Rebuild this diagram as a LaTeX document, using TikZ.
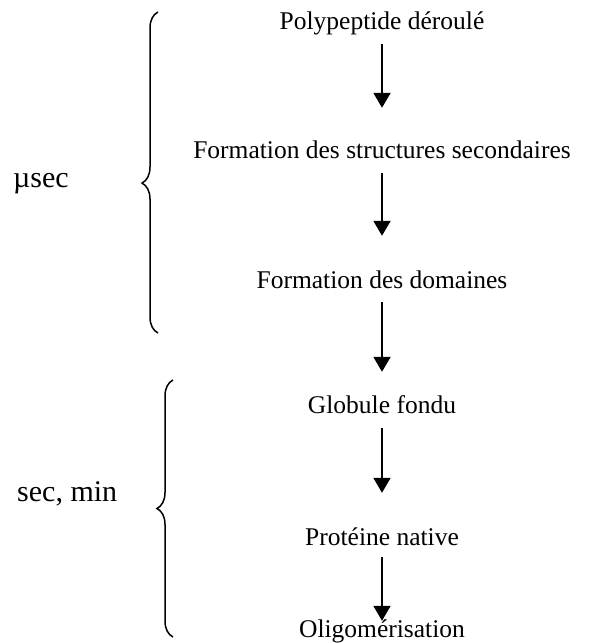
\documentclass[tikz,border=0pt]{standalone}
\usepackage{fontspec}
\setmainfont{Liberation Serif}
\usetikzlibrary{positioning, arrows.meta, decorations.pathreplacing}

\begin{document}
\begin{tikzpicture}[
    x=1pt, y=-1pt,
    stage/.style={inner sep=0pt, anchor=base, text height=16pt, text depth=0pt, font=\fontsize{25.5}{30}\selectfont},
    timelbl/.style={inner sep=0pt, anchor=base west, font=\fontsize{30}{36}\selectfont},
    arr/.style={-{Triangle[length=15pt, width=17pt]}, line width=2pt, shorten <=15pt},
    brc/.style={decorate, decoration={brace, amplitude=16pt}, line width=1.5pt}
]
    \useasboundingbox (0,0) rectangle (603,643);

    \node[stage] (poly) at (382,29) {Polypeptide déroulé};
    \node[stage] (struct) at (382,158) {Formation des structures secondaires};
    \node[stage] (domain) at (382,288) {Formation des domaines};
    \node[stage] (globule) at (382,413) {Globule fondu};
    \node[stage] (native) at (382,545) {Protéine native};
    \node[stage] (oligo) at (382,637) {Oligomérisation};

    \draw[arr, shorten >=34pt] (poly.south) -- (struct.north);
    \draw[arr, shorten >=36pt] (struct.south) -- (domain.north);
    \draw[arr, shorten <=14pt, shorten >=25pt] (domain.south) -- (globule.north);
    \draw[arr, shorten >=36pt] (globule.south) -- (native.north);
    \draw[arr, shorten <=12pt, shorten >=0pt] (native.south) -- (oligo.north);

    % time scales
    \draw[brc, decoration={aspect=0.467}] (158,333) -- (158,12);
    \draw[brc] (173,637) -- (173,380);

    \node[timelbl] (usec) at (13,187) {µsec};
    \node[timelbl] (secmin) at (17,501) {sec, min};
\end{tikzpicture}
\end{document}
